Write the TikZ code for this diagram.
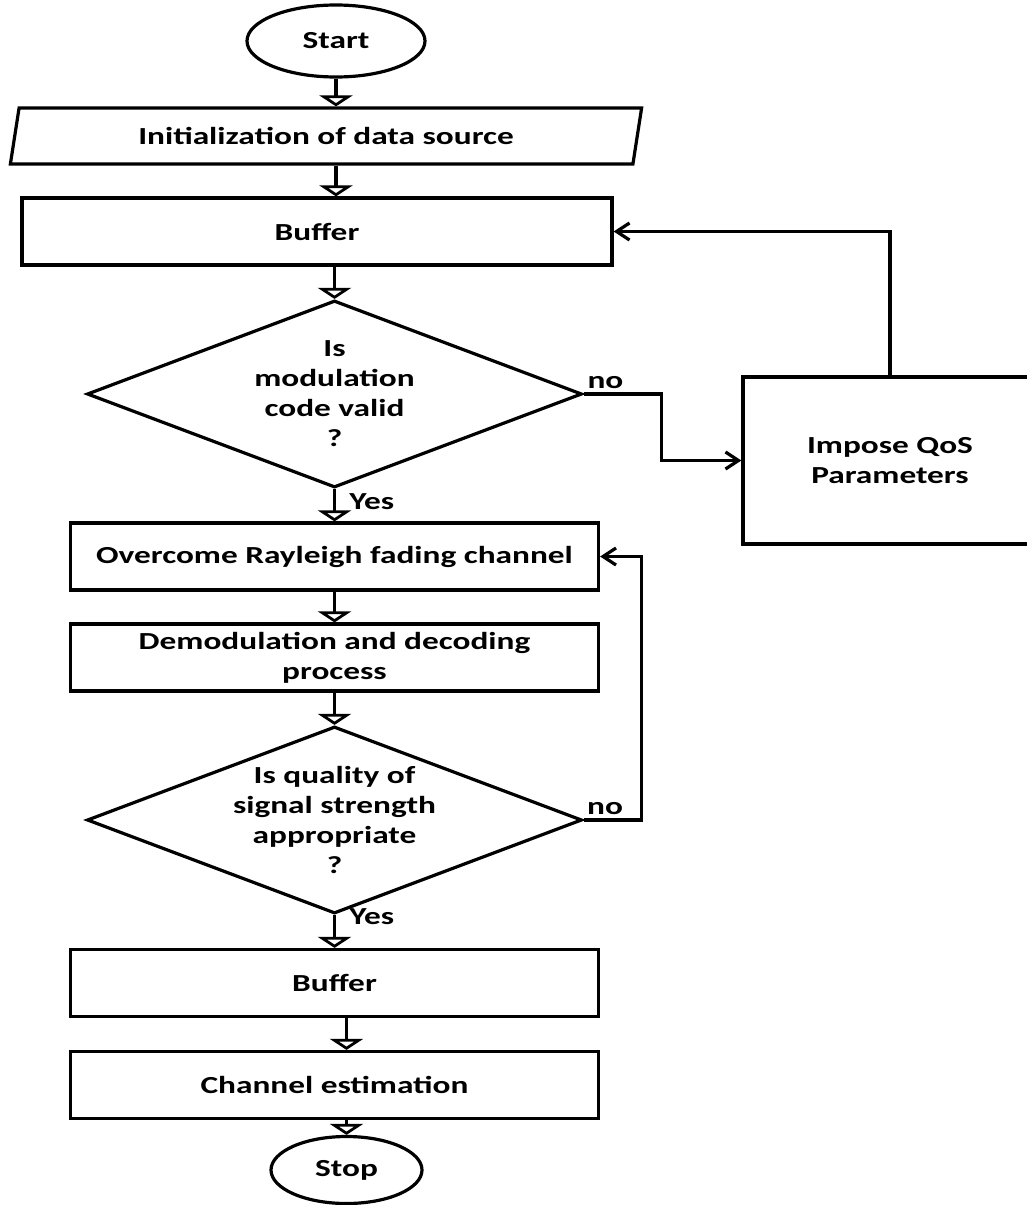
\documentclass[tikz,border=0pt]{standalone}
\usepackage{fontspec}
\setmainfont{Carlito}[FakeStretch=1.36]
\usetikzlibrary{arrows.meta,shapes.geometric}

\begin{document}
\begin{tikzpicture}[x=1pt,y=1pt,->,>={Straight Barb[length=13pt,width=17pt]},auto,line width=3.2pt,
    every node/.style={font=\fontsize{24.5}{30}\selectfont\bfseries},
    flow/.style={-{Triangle[open,length=11pt,width=33pt]}},
    term/.style={draw,ellipse,inner sep=0pt},
    io/.style={draw,trapezium,trapezium left angle=73,trapezium right angle=107,trapezium stretches=true,
               minimum width=634pt,minimum height=56pt,inner sep=0pt},
    proc/.style={draw,rectangle,minimum width=528pt,minimum height=67pt,inner sep=0pt,align=center},
    decision/.style={draw,diamond,shape aspect=2.6,minimum width=495pt,minimum height=187pt,inner sep=-40pt,align=center}]
    %    page frame, the QoS box runs off the right edge
        \useasboundingbox (0,0) rectangle (1027,-1205);
        \clip (0,0) rectangle (1027,-1205);

        \node[term,minimum width=178pt,minimum height=72pt] (Start) at (336,-41) {Start};
        \node[io] (Init) [below of=Start, node distance=95pt, xshift=-10pt] {Initialization of data source};
        \node[proc,minimum width=590pt] (Buf) [below of=Init, node distance=95.5pt, xshift=-9pt] {Buffer};
        \node[decision] (Modchk) [below of=Buf, node distance=162.5pt, xshift=17.5pt] {Is\\modulation\\code valid\\?};
        \node[proc,minimum width=294pt,minimum height=167pt] (Qos) [right of=Modchk, node distance=555.5pt, yshift=-66.5pt] {Impose QoS\\Parameters};
        \node[proc] (Fade) [below of=Modchk, node distance=162.5pt] {Overcome Rayleigh fading channel};
        \node[proc] (Demod) [below of=Fade, node distance=101pt] {Demodulation and decoding\\process};
        \node[decision] (Sigchk) [below of=Demod, node distance=162.5pt] {Is quality of\\signal strength\\appropriate\\?};
        \node[proc] (Buf2) [below of=Sigchk, node distance=163pt] {Buffer};
        \node[proc] (Est) [below of=Buf2, node distance=102pt] {Channel estimation};
        \node[term,minimum width=151pt,minimum height=67pt] (Stop) [below of=Est, node distance=85pt, xshift=12pt] {Stop};

        \path (Start) edge[flow] (Start |- Init.north)
              (Init.south -| Start) edge[flow] (Buf.north -| Start)
              (Buf.south -| Modchk) edge[flow] (Modchk)
              (Modchk) edge[flow] node[xshift=10pt,yshift=4pt] (Yes1) {Yes} (Fade)
              (Fade)   edge[flow] (Demod)
              (Demod)  edge[flow] (Sigchk)
              (Sigchk) edge[flow] node[xshift=10pt,yshift=15pt] (Yes2) {Yes} (Buf2)
              (Buf2.south -| Stop) edge[flow] (Est.north -| Stop)
              (Est.south -| Stop)  edge[flow] (Stop);

        \draw (Modchk.east) -- node[pos=0.28] (No1) {no} ++(78,0) |- (Qos.west);
        \draw (Qos.north) |- (Buf.east);
        \draw (Sigchk.east) -- node[pos=0.37] (No2) {no} ++(58,0) |- (Fade.east); % back to fading
\end{tikzpicture}
\end{document}
